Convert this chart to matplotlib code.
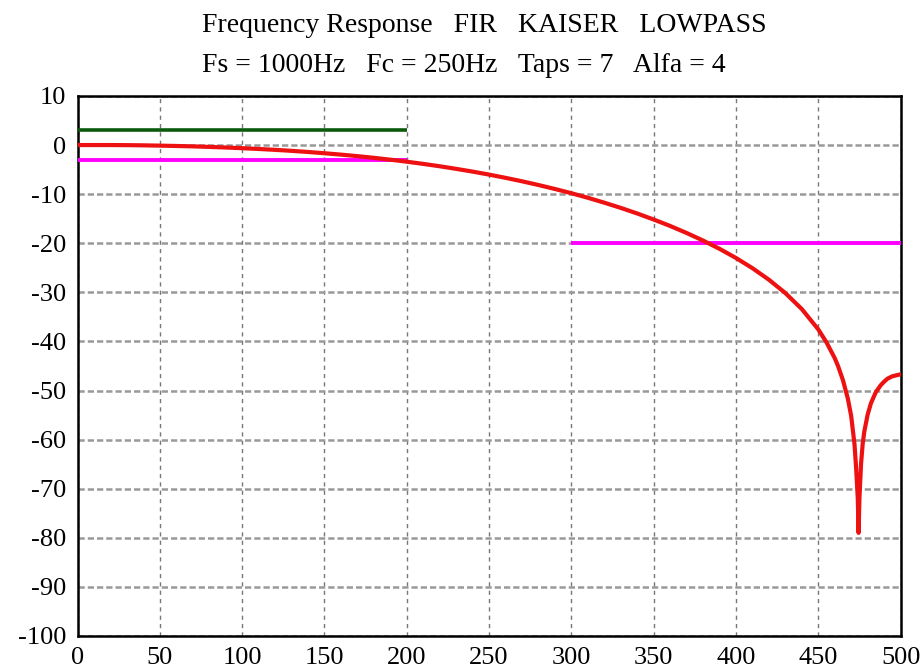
import matplotlib
matplotlib.use("Agg")
import matplotlib.pyplot as plt

plt.rcParams["axes.unicode_minus"] = False

# frequency response (Hz, dB)
freq = [0, 10, 20, 30, 40, 50, 60, 70, 80, 90, 100, 110, 120, 130, 140, 150,
        160, 170, 180, 190, 200, 210, 220, 230, 240, 250, 260, 270, 280, 290,
        300, 310, 320, 330, 340, 350, 360, 370, 380, 390, 400, 410, 420, 430,
        440, 450, 455, 460, 462, 465, 468, 470, 472, 473, 474, 474.5, 475, 476,
        477, 478, 480, 482, 485, 488, 490, 492, 495, 500]
mag_db = [0.0, 0.0, 0.0, -0.02, -0.06, -0.12, -0.19, -0.27, -0.38, -0.50,
          -0.64, -0.80, -0.98, -1.18, -1.41, -1.67, -1.95, -2.26, -2.60, -2.98,
          -3.39, -3.84, -4.32, -4.85, -5.41, -6.02, -6.68, -7.38, -8.14, -8.95,
          -9.81, -10.74, -11.74, -12.80, -13.94, -15.17, -16.48, -17.91, -19.45,
          -21.14, -23.00, -25.08, -27.43, -30.15, -33.41, -37.55, -40.2, -43.4,
          -45.0, -47.9, -51.7, -55.2, -60.9, -65.8, -72.0, -79.0, -72.0, -64.9,
          -60.8, -58.3, -54.9, -52.6, -50.3, -48.9, -48.2, -47.6, -47.1, -46.7]

# spec lines
pass_hi_x, pass_hi_y = [0, 200], [3, 3]
pass_lo_x, pass_lo_y = [0, 200], [-3, -3]
stop_x, stop_y = [300, 500], [-20, -20]

x_ticks = list(range(0, 501, 50))
y_ticks = list(range(-100, 11, 10))

fig = plt.figure(figsize=(9.23, 6.71), dpi=100)
ax = fig.add_axes([0.084, 0.0522, 0.8917, 0.8048])

ax.plot(pass_hi_x, pass_hi_y, color="#0b5a0b", lw=2.6, solid_capstyle="butt", zorder=3)
ax.plot(pass_lo_x, pass_lo_y, color="#ff00ff", lw=2.8, solid_capstyle="butt", zorder=3)
ax.plot(stop_x, stop_y, color="#ff00ff", lw=2.8, solid_capstyle="butt", zorder=3)
ax.plot(freq, mag_db, color="#ee1111", lw=3, zorder=4)

ax.set_xlim(0, 500)
ax.set_ylim(-100, 10)
ax.set_xticks(x_ticks)
ax.set_yticks(y_ticks)

ax.xaxis.grid(True, color="#777777", ls=(0, (3, 3)), lw=1.0)
ax.yaxis.grid(True, color="#999999", ls=(0, (2.5, 1.2)), lw=1.8)
ax.set_axisbelow(True)

for s in ax.spines.values():
    s.set_color("black")
    s.set_linewidth(1.8)

serif = "Liberation Serif"
ax.tick_params(length=0, pad=8)
for lbl in ax.get_xticklabels() + ax.get_yticklabels():
    lbl.set_fontfamily(serif)
    lbl.set_fontsize(19)

fig.text(202 / 923, 1 - 26 / 671, "Frequency Response   FIR   KAISER   LOWPASS",
         family=serif, fontsize=20, ha="left", va="center")
fig.text(202 / 923, 1 - 66 / 671, "Fs = 1000Hz   Fc = 250Hz   Taps = 7   Alfa = 4",
         family=serif, fontsize=20, ha="left", va="center")

fig.savefig("out.png", dpi=100, facecolor="white")
